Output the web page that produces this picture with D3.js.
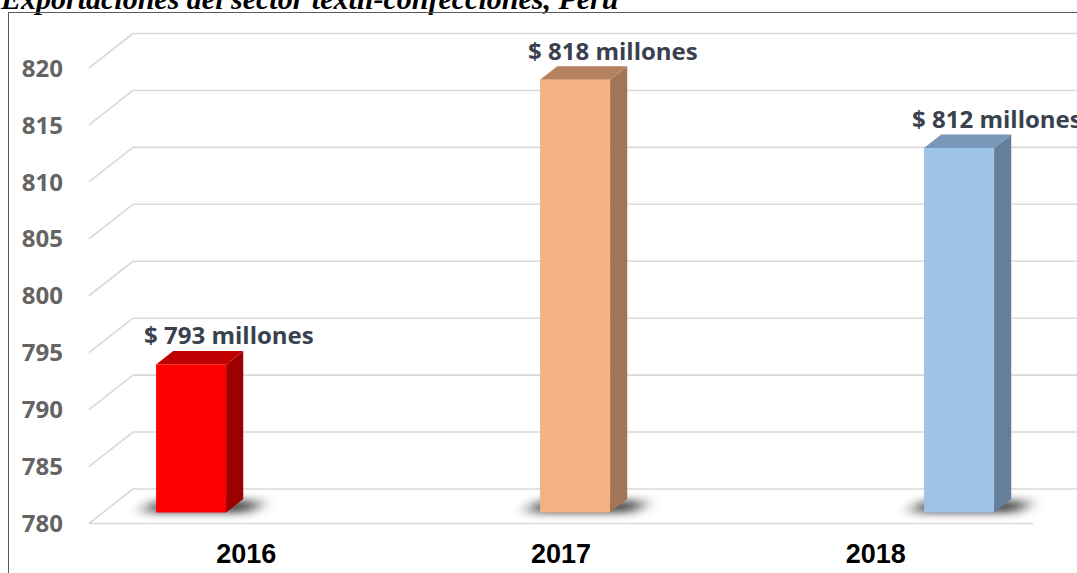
<!DOCTYPE html>
<html>
<head>
<meta charset="utf-8">
<script src="https://cdn.jsdelivr.net/npm/d3@7/dist/d3.min.js"></script>
<style>
  html, body { margin: 0; padding: 0; background: #fff; }
  svg { display: block; }
</style>
</head>
<body>
<svg id="chart" width="1077" height="573"></svg>
<script>
// ---- data ----
const title = "Exportaciones del sector textil-confecciones, Perú";
const years = ["2016", "2017", "2018"];
const values = [793, 818, 812];
const yTicks = [780, 785, 790, 795, 800, 805, 810, 815, 820];
const valueSuffix = "millones";

// ---- styles ----
const faceColors = ["#ff0000", "#f4b183", "#9dc3e6"];
const sideColors = ["#9e0000", "#a27558", "#647f9c"];
const topColors  = ["#bf0000", "#b5815f", "#7896b7"];

const svg = d3.select("#chart");
const W = 1077, H = 573;

// ---- layout ----
const backLeft = 133, backRight = 1100;
const DX = -44, DY = 34.5;          // depth offset from back wall to front edge
const zBack = 0.29, zFront = 0.68;  // bar depth position (0 = back, 1 = front)
const barW = 70;

const y = d3.scaleLinear().domain([780, 820]).range([489, 33.5]);
const x = d3.scalePoint().domain(years).range([221, 989]);
const xLabel = d3.scaleBand().domain(years).range([backLeft + DX, 1033]);

function P(px, v, z) { return [px + DX * z, y(v) + DY * z]; }
const poly = pts => pts.map(p => p.join(",")).join(" ");

// defs
const defs = svg.append("defs");
defs.append("filter").attr("id", "shadowBlur")
  .attr("x", "-50%").attr("y", "-300%").attr("width", "200%").attr("height", "700%")
  .append("feGaussianBlur").attr("stdDeviation", "9 4");

// title (partially cut at top, as in the reference)
svg.append("text")
  .attr("x", 1).attr("y", 9)
  .attr("font-family", "'Liberation Serif', 'Times New Roman', serif")
  .attr("font-weight", "bold").attr("font-style", "italic")
  .attr("font-size", 30).attr("fill", "#000")
  .text(title);

// outer border
svg.append("rect")
  .attr("x", 8.5).attr("y", 12.5).attr("width", W + 20).attr("height", H + 20)
  .attr("fill", "none").attr("stroke", "#5a5a5a").attr("stroke-width", 1);

// gridlines: back wall + side wall
const grid = svg.append("g").attr("stroke", "#d9d9d9").attr("stroke-width", 1.6).attr("fill", "none");
yTicks.forEach(t => {
  grid.append("line")
    .attr("x1", backLeft).attr("x2", backRight)
    .attr("y1", y(t)).attr("y2", y(t));
  const f = P(backLeft, t, 1);
  grid.append("line")
    .attr("x1", f[0]).attr("y1", f[1])
    .attr("x2", backLeft).attr("y2", y(t));
});
// floor front edge
const fl = P(backLeft, 780, 1);
grid.append("line")
  .attr("x1", fl[0]).attr("x2", 1033)
  .attr("y1", fl[1]).attr("y2", fl[1]);

// y tick labels
svg.append("g").selectAll("text").data(yTicks).join("text")
  .attr("x", 63)
  .attr("y", d => P(backLeft, d, 1)[1])
  .attr("dy", "0.36em")
  .attr("text-anchor", "end")
  .attr("font-family", "'Open Sans', 'Noto Sans', sans-serif")
  .attr("font-weight", "bold")
  .attr("font-size", 24)
  .attr("fill", "#646464")
  .text(d => d);

// bars
const bars = svg.append("g");
years.forEach((yr, i) => {
  const v = values[i];
  const xl = x(yr) - barW / 2, xr = x(yr) + barW / 2;
  const g = bars.append("g");
  // soft shadow on the floor
  g.append("polygon")
    .attr("points", poly([
      P(xl - 14, 780, zFront), P(xr + 22, 780, zFront),
      P(xr + 22, 780, zBack + 0.05), P(xl - 14, 780, zBack + 0.05)
    ]))
    .attr("fill", "#000").attr("opacity", 0.75)
    .attr("filter", "url(#shadowBlur)");
  // side
  g.append("polygon")
    .attr("points", poly([P(xr, 780, zFront), P(xr, 780, zBack), P(xr, v, zBack), P(xr, v, zFront)]))
    .attr("fill", sideColors[i]);
  // top
  g.append("polygon")
    .attr("points", poly([P(xl, v, zFront), P(xr, v, zFront), P(xr, v, zBack), P(xl, v, zBack)]))
    .attr("fill", topColors[i]);
  // front
  const fTL = P(xl, v, zFront), fBR = P(xr, 780, zFront);
  g.append("rect")
    .attr("x", fTL[0]).attr("y", fTL[1])
    .attr("width", fBR[0] - fTL[0]).attr("height", fBR[1] - fTL[1])
    .attr("fill", faceColors[i]);
  // value label
  svg.append("text")
    .attr("x", fTL[0] - 12)
    .attr("y", fTL[1] - 20)
    .attr("font-family", "'Open Sans', 'Noto Sans', sans-serif")
    .attr("font-weight", "bold")
    .attr("font-size", 24)
    .attr("fill", "#3a414e")
    .text(`$ ${v} ${valueSuffix}`);
});

// category labels
svg.append("g").selectAll("text").data(years).join("text")
  .attr("x", d => xLabel(d) + xLabel.bandwidth() / 2)
  .attr("y", 563)
  .attr("text-anchor", "middle")
  .attr("font-family", "'Liberation Sans', Arial, sans-serif")
  .attr("font-weight", "bold")
  .attr("font-size", 27)
  .attr("fill", "#000")
  .text(d => d);
</script>
</body>
</html>
